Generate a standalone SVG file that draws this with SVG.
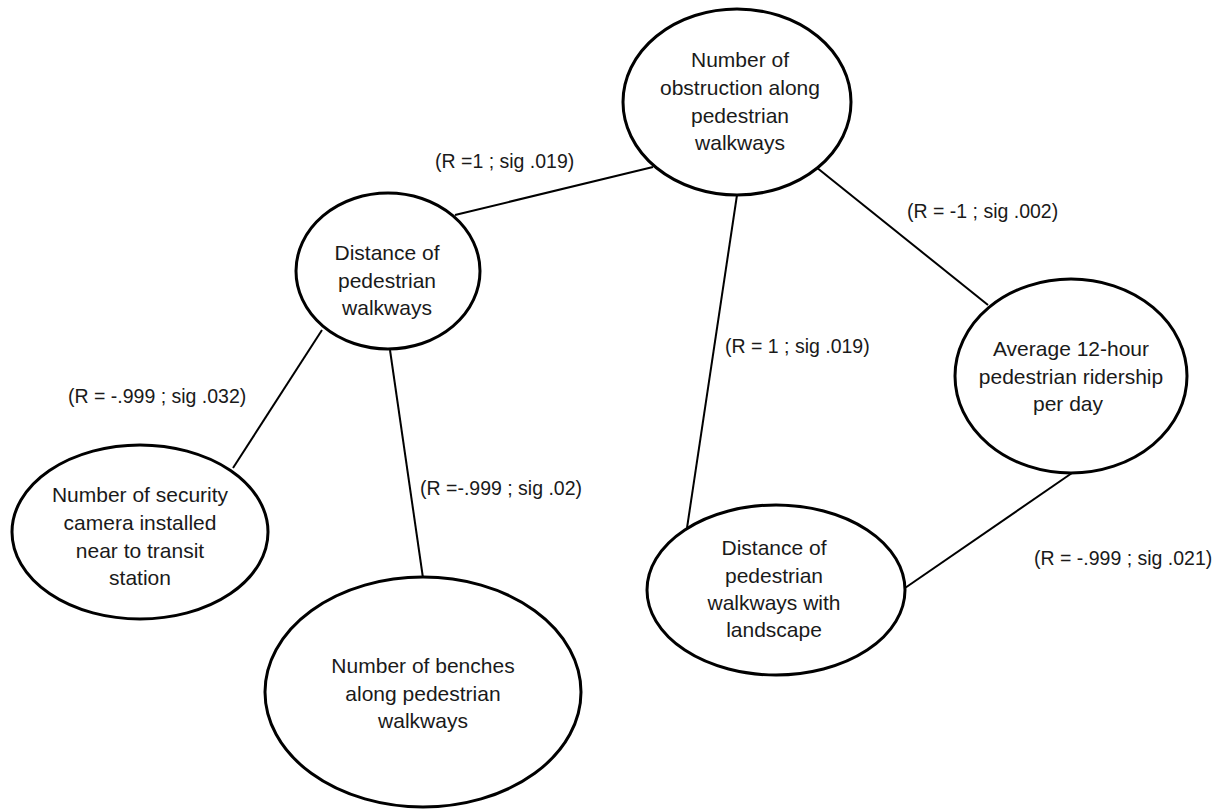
<svg xmlns="http://www.w3.org/2000/svg" width="1228" height="809" viewBox="0 0 1228 809">
<style>
.node{fill:#fff;stroke:#000;stroke-width:3}
.edge{stroke:#000;stroke-width:2;fill:none}
.t{font-family:"Liberation Sans",Arial,sans-serif;font-size:21px;fill:#1a1a1a;text-anchor:middle}
.lbl{font-family:"Liberation Sans",Arial,sans-serif;font-size:19.5px;fill:#1a1a1a}
</style>
<rect width="1228" height="809" fill="#fff"/>
<g id="connectors">
<line class="edge" x1="653" y1="167" x2="455" y2="215"/>
<line class="edge" x1="816" y1="167" x2="988" y2="305"/>
<line class="edge" x1="737" y1="195" x2="687" y2="528"/>
<line class="edge" x1="322" y1="330" x2="233" y2="468"/>
<line class="edge" x1="390" y1="350" x2="423" y2="578"/>
<line class="edge" x1="1072" y1="473" x2="905" y2="588"/>
<text class="lbl" x="435" y="168">(R =1 ; sig .019)</text>
<text class="lbl" x="907" y="218">(R = -1 ; sig .002)</text>
<text class="lbl" x="725" y="353">(R = 1 ; sig .019)</text>
<text class="lbl" x="68" y="403">(R = -.999 ; sig .032)</text>
<text class="lbl" x="420" y="495">(R =-.999 ; sig .02)</text>
<text class="lbl" x="1034" y="565">(R = -.999 ; sig .021)</text>
</g>
<g id="n-obstruction">
<ellipse class="node" cx="737" cy="102" rx="114" ry="93"/>
<text class="t" x="740" y="67">Number of</text>
<text class="t" x="740" y="95">obstruction along</text>
<text class="t" x="740" y="123">pedestrian</text>
<text class="t" x="740" y="150">walkways</text>
</g>
<g id="n-distance">
<ellipse class="node" cx="388" cy="271" rx="92" ry="78"/>
<text class="t" x="387" y="260">Distance of</text>
<text class="t" x="387" y="288">pedestrian</text>
<text class="t" x="387" y="315">walkways</text>
</g>
<g id="n-ridership">
<ellipse class="node" cx="1071" cy="376" rx="116" ry="97"/>
<text class="t" x="1071" y="356">Average 12-hour</text>
<text class="t" x="1071" y="384">pedestrian ridership</text>
<text class="t" x="1068" y="411">per day</text>
</g>
<g id="n-camera">
<ellipse class="node" cx="140" cy="532" rx="128" ry="87"/>
<text class="t" x="140" y="502">Number of security</text>
<text class="t" x="140" y="530">camera installed</text>
<text class="t" x="140" y="558">near to transit</text>
<text class="t" x="140" y="585">station</text>
</g>
<g id="n-benches">
<ellipse class="node" cx="423" cy="692" rx="158" ry="115"/>
<text class="t" x="423" y="673">Number of benches</text>
<text class="t" x="423" y="701">along pedestrian</text>
<text class="t" x="423" y="728">walkways</text>
</g>
<g id="n-landscape">
<ellipse class="node" cx="776" cy="590" rx="129" ry="85"/>
<text class="t" x="774" y="555">Distance of</text>
<text class="t" x="774" y="583">pedestrian</text>
<text class="t" x="774" y="610">walkways with</text>
<text class="t" x="774" y="637">landscape</text>
</g>
</svg>
